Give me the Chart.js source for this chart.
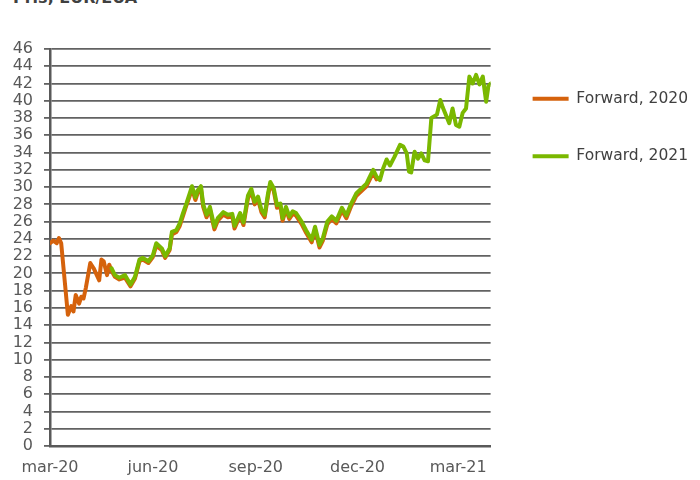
<!DOCTYPE html>
<html>
<head>
<meta charset="utf-8">
<script src="https://cdn.jsdelivr.net/npm/chart.js@4.4.1/dist/chart.umd.min.js"></script>
<style>
  html, body { margin: 0; padding: 0; background: #ffffff; }
  .wrap { position: relative; width: 700px; height: 480px; overflow: hidden; }
  .title {
    position: absolute; left: 13px; top: -10px;
    font: bold 16px "DejaVu Sans", sans-serif; line-height: 16px;
    color: #404040; white-space: nowrap;
  }
  canvas { position: absolute; left: 0; top: 0; }
</style>
</head>
<body>
<div class="wrap">
  <div class="title">Pris, EUR/EUA</div>
  <canvas id="priceChart" width="700" height="480"></canvas>
</div>
<script>
// x values are days counted from 1 March 2020
const days2020 = [0, 3, 6, 8, 10, 16, 19, 21, 23, 26, 28, 30, 32, 36, 39, 44, 46, 48, 51, 53,
  55, 58, 62, 67, 72, 76, 80, 83, 88, 92, 95, 100, 103, 107, 109, 113, 116, 119, 122, 125,
  127, 130, 132, 135, 137, 140, 143, 147, 150, 155, 159, 163, 165, 170, 173, 177, 180, 183, 186, 189,
  192, 195, 197, 200, 203, 206, 208, 211, 214, 217, 220, 225, 229, 234, 237, 241, 244, 248, 252, 256,
  261, 265, 269, 274, 279, 283, 286, 289, 292];
const fwd2020 = [23.5, 23.8, 23.5, 24.1, 23.5, 15.2, 16.2, 15.6, 17.5, 16.5, 17.3, 17.1, 18.3, 21.2, 20.6, 19.2, 21.6, 21.4, 19.8, 21.0,
  20.3, 19.6, 19.3, 19.5, 18.5, 19.4, 21.4, 21.6, 21.2, 21.9, 23.2, 22.7, 21.8, 22.7, 24.5, 24.8, 25.5, 26.7, 27.9, 29.0,
  29.8, 28.5, 29.3, 29.8, 27.7, 26.5, 27.4, 25.1, 26.1, 26.8, 26.5, 26.6, 25.2, 26.7, 25.6, 28.7, 29.5, 28.0, 28.6, 27.1,
  26.5, 29.0, 30.3, 29.6, 27.6, 27.8, 26.1, 27.4, 26.3, 26.9, 26.7, 25.7, 24.7, 23.6, 25.1, 23.0, 23.8, 25.7, 26.3, 25.8,
  27.3, 26.4, 27.7, 29.0, 29.6, 30.1, 30.9, 31.7, 30.9];

const days2021 = [55, 58, 62, 67, 72, 76, 80, 83, 88, 92, 95, 100, 103, 107, 109, 113, 116, 119, 122, 125,
  127, 130, 132, 135, 137, 140, 143, 147, 150, 155, 159, 163, 165, 170, 173, 177, 180, 183, 186, 189,
  192, 195, 197, 200, 203, 206, 208, 211, 214, 217, 220, 225, 229, 234, 237, 241, 244, 248, 252, 256,
  261, 265, 269, 274, 279, 283, 286, 289, 292, 295, 298, 301, 304, 308, 313, 316, 319, 321, 323, 326,
  329, 332, 335, 338, 341, 346, 349, 351, 357, 360, 363, 366, 369, 372, 375, 378, 381, 384, 387, 390,
  392, 394];
const fwd2021 = [20.6, 19.8, 19.5, 19.8, 18.7, 19.6, 21.6, 21.8, 21.4, 22.1, 23.5, 22.9, 22.0, 22.9, 24.8, 25.0, 25.8, 27.0, 28.1, 29.3,
  30.1, 28.8, 29.6, 30.1, 28.0, 26.8, 27.7, 25.4, 26.4, 27.1, 26.8, 26.9, 25.5, 27.0, 25.9, 29.0, 29.8, 28.3, 28.9, 27.4,
  26.8, 29.3, 30.6, 29.9, 27.9, 28.1, 26.4, 27.7, 26.6, 27.2, 27.0, 26.0, 25.0, 23.9, 25.4, 23.3, 24.1, 26.0, 26.6, 26.1,
  27.6, 26.7, 28.0, 29.3, 29.9, 30.4, 31.2, 32.0, 31.2, 30.8, 32.2, 33.2, 32.5, 33.5, 34.9, 34.7, 33.9, 31.8, 31.7, 34.1,
  33.3, 33.9, 33.1, 33.0, 38.0, 38.4, 40.1, 39.3, 37.4, 39.1, 37.2, 37.0, 38.6, 39.1, 42.8, 42.0, 43.0, 41.9, 42.8, 39.9,
  41.7, 42.0];

// quarterly tick labels on the date axis
const tickDays = [0, 92, 184, 275, 365];
const tickLabels = ['mar-20', 'jun-20', 'sep-20', 'dec-20', 'mar-21'];

const toPoints = (xs, ys) => xs.map((x, i) => ({ x: x, y: ys[i] }));

const font = { family: '"DejaVu Sans", sans-serif', size: 16 };
const legendFont = { family: '"DejaVu Sans", sans-serif', size: 15.5 };
const gridColor = '#626262';
const axisColor = '#595959';

const ctx = document.getElementById('priceChart').getContext('2d');

const priceChart = new Chart(ctx, {
    type: 'line',
    data: {
        datasets: [{
            label: 'Forward, 2020',
            data: toPoints(days2020, fwd2020),
            borderColor: '#d5620c',
            borderWidth: 4,
            order: 2
        },
        {
            label: 'Forward, 2021',
            data: toPoints(days2021, fwd2021),
            borderColor: '#7ab800',
            borderWidth: 4,
            order: 1
        }]
    },
    options: {
        responsive: false,
        animation: false,
        layout: { padding: { top: 49, right: 2, bottom: 0, left: 0 } },
        elements: {
            point: { radius: 0 },
            line: { tension: 0, borderJoinStyle: 'round', borderCapStyle: 'round' }
        },
        scales: {
            x: {
                type: 'linear',
                min: 0,
                max: 394,
                afterBuildTicks: scale => {
                    scale.ticks = tickDays.map(v => ({ value: v }));
                },
                afterFit: scale => { scale.height = 34; },
                ticks: {
                    autoSkip: false,
                    maxRotation: 0,
                    padding: 12,
                    color: axisColor,
                    font: font,
                    callback: value => tickLabels[tickDays.indexOf(value)]
                },
                grid: { display: false, drawTicks: false },
                border: { display: true, color: axisColor, width: 2.5 }
            },
            y: {
                min: 0,
                max: 46,
                afterFit: scale => { scale.width = 50; },
                ticks: {
                    stepSize: 2,
                    autoSkip: false,
                    padding: 11,
                    color: axisColor,
                    font: font
                },
                grid: {
                    color: gridColor,
                    lineWidth: 1.8,
                    tickLength: 6
                },
                border: { display: true, color: axisColor, width: 2.5 }
            }
        },
        plugins: {
            tooltip: { enabled: false },
            legend: {
                position: 'right',
                align: 'start',
                maxWidth: 240,
                labels: {
                    boxWidth: 36,
                    boxHeight: 4,
                    padding: 42,
                    color: '#404040',
                    font: legendFont,
                    sort: (a, b) => a.datasetIndex - b.datasetIndex,
                    generateLabels: chart => {
                        const items = Chart.defaults.plugins.legend.labels.generateLabels(chart);
                        items.forEach(item => {
                            item.fillStyle = item.strokeStyle;
                            item.lineWidth = 0;
                        });
                        return items;
                    }
                }
            }
        }
    }
});
</script>
</body>
</html>
